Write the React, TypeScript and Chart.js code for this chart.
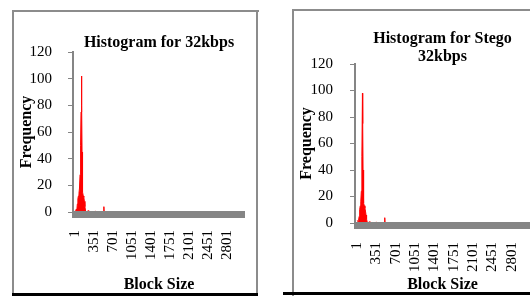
import React, { useEffect, useRef } from "react";
import { Chart, registerables } from "chart.js";

Chart.register(...registerables);

// Tick labels on the Block Size axis
const blockTicks = [1, 351, 701, 1051, 1401, 1751, 2101, 2451, 2801];

// Histogram for 32kbps (block size -> frequency)
const blocks32 = [1, 20, 30, 40, 50, 60, 70, 80, 90, 100, 108, 117, 122, 127, 132, 140, 150, 160, 170, 180, 195, 250, 280, 380, 420, 525, 530, 535, 3135];
const freq32 = [1, 2, 1, 6, 10, 12, 14, 18, 28, 50, 75, 102, 80, 45, 25, 15, 12, 11, 8, 4, 0, 1, 0, 0.5, 0, 0, 4, 0, 0];

// Histogram for Stego 32kbps
const blocksStego = [1, 15, 25, 35, 45, 55, 65, 75, 85, 95, 100, 106, 112, 120, 130, 140, 150, 160, 170, 185, 230, 260, 350, 380, 495, 500, 505, 3135];
const freqStego = [2, 1, 2, 5, 10, 13, 16, 24, 50, 98, 75, 40, 22, 15, 13, 11, 9, 6, 3, 0, 1, 0, 0.5, 0, 0, 4, 0, 0];

const FONT = "'Liberation Serif', 'Times New Roman', serif";
const AXIS_GRAY = "#858585";

const floorBand = {
  id: "floorBand",
  afterDatasetsDraw(chart: any) {
    const { ctx, chartArea, scales } = chart;
    const y0 = Math.round(scales.y.getPixelForValue(0));
    ctx.save();
    ctx.fillStyle = AXIS_GRAY;
    ctx.fillRect(chartArea.left - 1, y0 - 1, chartArea.right - chartArea.left + 1, 7);
    ctx.restore();
  },
};

type Layout = {
  padTop: number;
  padRight: number;
  titlePadTop: number;
  titlePadBottom: number;
  yWidth: number;
  yTitlePad: number;
  yTickPad: number;
  xHeight: number;
  xTickGap: number;
};

function makeConfig(xs: number[], ys: number[], title: string | string[], L: Layout): any {
  const boldFont = { family: FONT, size: 16, weight: "bold", lineHeight: 1.125 };
  return {
    type: "line",
    data: {
      datasets: [
        {
          data: xs.map((x, i) => ({ x, y: ys[i] })),
          fill: "origin",
          backgroundColor: "rgb(255,0,0)",
          borderColor: "rgb(255,0,0)",
          borderWidth: 1,
          pointRadius: 0,
          tension: 0,
        },
      ],
    },
    options: {
      animation: false,
      responsive: false,
      devicePixelRatio: 1,
      layout: { padding: { top: L.padTop, right: L.padRight, left: 0, bottom: 0 } },
      plugins: {
        legend: { display: false },
        tooltip: { enabled: false },
        title: {
          display: true,
          text: title,
          fullSize: false,
          color: "#000",
          font: boldFont,
          padding: { top: L.titlePadTop, bottom: L.titlePadBottom },
        },
      },
      scales: {
        x: {
          type: "linear",
          min: -40,
          max: 3135,
          afterBuildTicks: (s: any) => {
            s.ticks = blockTicks.map((v) => ({ value: v }));
          },
          ticks: {
            minRotation: 90,
            maxRotation: 90,
            autoSkip: false,
            padding: 2,
            color: "#000",
            font: { family: FONT, size: 15 },
            callback: (v: any) => String(v),
          },
          grid: {
            display: true,
            drawOnChartArea: false,
            drawTicks: true,
            tickLength: L.xTickGap,
            color: "rgba(0,0,0,0)",
          },
          border: { display: false },
          title: {
            display: true,
            text: "Block Size",
            color: "#000",
            font: boldFont,
            padding: { top: 0, bottom: 2 },
          },
          afterFit: (s: any) => {
            s.height = L.xHeight;
          },
        },
        y: {
          min: 0,
          max: 120,
          ticks: {
            stepSize: 20,
            padding: L.yTickPad,
            color: "#000",
            font: { family: FONT, size: 15 },
          },
          grid: { drawOnChartArea: false, tickLength: 5, color: AXIS_GRAY },
          border: { color: AXIS_GRAY, width: 2 },
          title: {
            display: true,
            text: "Frequency",
            color: "#000",
            font: boldFont,
            padding: { top: L.yTitlePad, bottom: 0 },
          },
          afterFit: (s: any) => {
            s.width = L.yWidth;
          },
        },
      },
    },
    plugins: [floorBand],
  };
}

function HistChart(props: {
  xs: number[];
  ys: number[];
  title: string | string[];
  layout: Layout;
  left: number;
  top: number;
  width: number;
  height: number;
}) {
  const ref = useRef<HTMLCanvasElement | null>(null);
  useEffect(() => {
    if (!ref.current) return;
    const chart = new Chart(ref.current, makeConfig(props.xs, props.ys, props.title, props.layout));
    return () => chart.destroy();
  }, []);
  return (
    <canvas
      ref={ref}
      width={props.width}
      height={props.height}
      style={{
        position: "absolute",
        left: props.left,
        top: props.top,
        width: props.width,
        height: props.height,
      }}
    />
  );
}

export default function App() {
  return (
    <div
      style={{
        position: "fixed",
        left: 0,
        top: 0,
        width: 530,
        height: 296,
        background: "#fff",
        overflow: "hidden",
      }}
    >
      {/* left frame */}
      <div style={{ position: "absolute", left: 12, top: 10, width: 2, height: 286, background: "#8c8c8c" }} />
      <div style={{ position: "absolute", left: 12, top: 10, width: 247, height: 2, background: "#8c8c8c" }} />
      <div style={{ position: "absolute", left: 256, top: 10, width: 2, height: 286, background: "#8c8c8c" }} />
      <div style={{ position: "absolute", left: 12, top: 293, width: 246, height: 3, background: "#000" }} />
      {/* right frame */}
      <div style={{ position: "absolute", left: 292, top: 9, width: 2, height: 287, background: "#8c8c8c" }} />
      <div style={{ position: "absolute", left: 292, top: 9, width: 238, height: 2, background: "#8c8c8c" }} />
      <div style={{ position: "absolute", left: 283, top: 292, width: 247, height: 3, background: "#000" }} />

      <HistChart
        xs={blocks32}
        ys={freq32}
        title="Histogram for 32kbps"
        left={14}
        top={12}
        width={243}
        height={284}
        layout={{
          padTop: 0,
          padRight: 12,
          titlePadTop: 22,
          titlePadBottom: 0,
          yWidth: 59,
          yTitlePad: 4,
          yTickPad: 16,
          xHeight: 84,
          xTickGap: 16,
        }}
      />
      <HistChart
        xs={blocksStego}
        ys={freqStego}
        title={["Histogram for Stego", "32kbps"]}
        left={295}
        top={11}
        width={237}
        height={285}
        layout={{
          padTop: 0,
          padRight: 2,
          titlePadTop: 19,
          titlePadBottom: -2,
          yWidth: 60,
          yTitlePad: 3,
          yTickPad: 17,
          xHeight: 73,
          xTickGap: 17,
        }}
      />
    </div>
  );
}
